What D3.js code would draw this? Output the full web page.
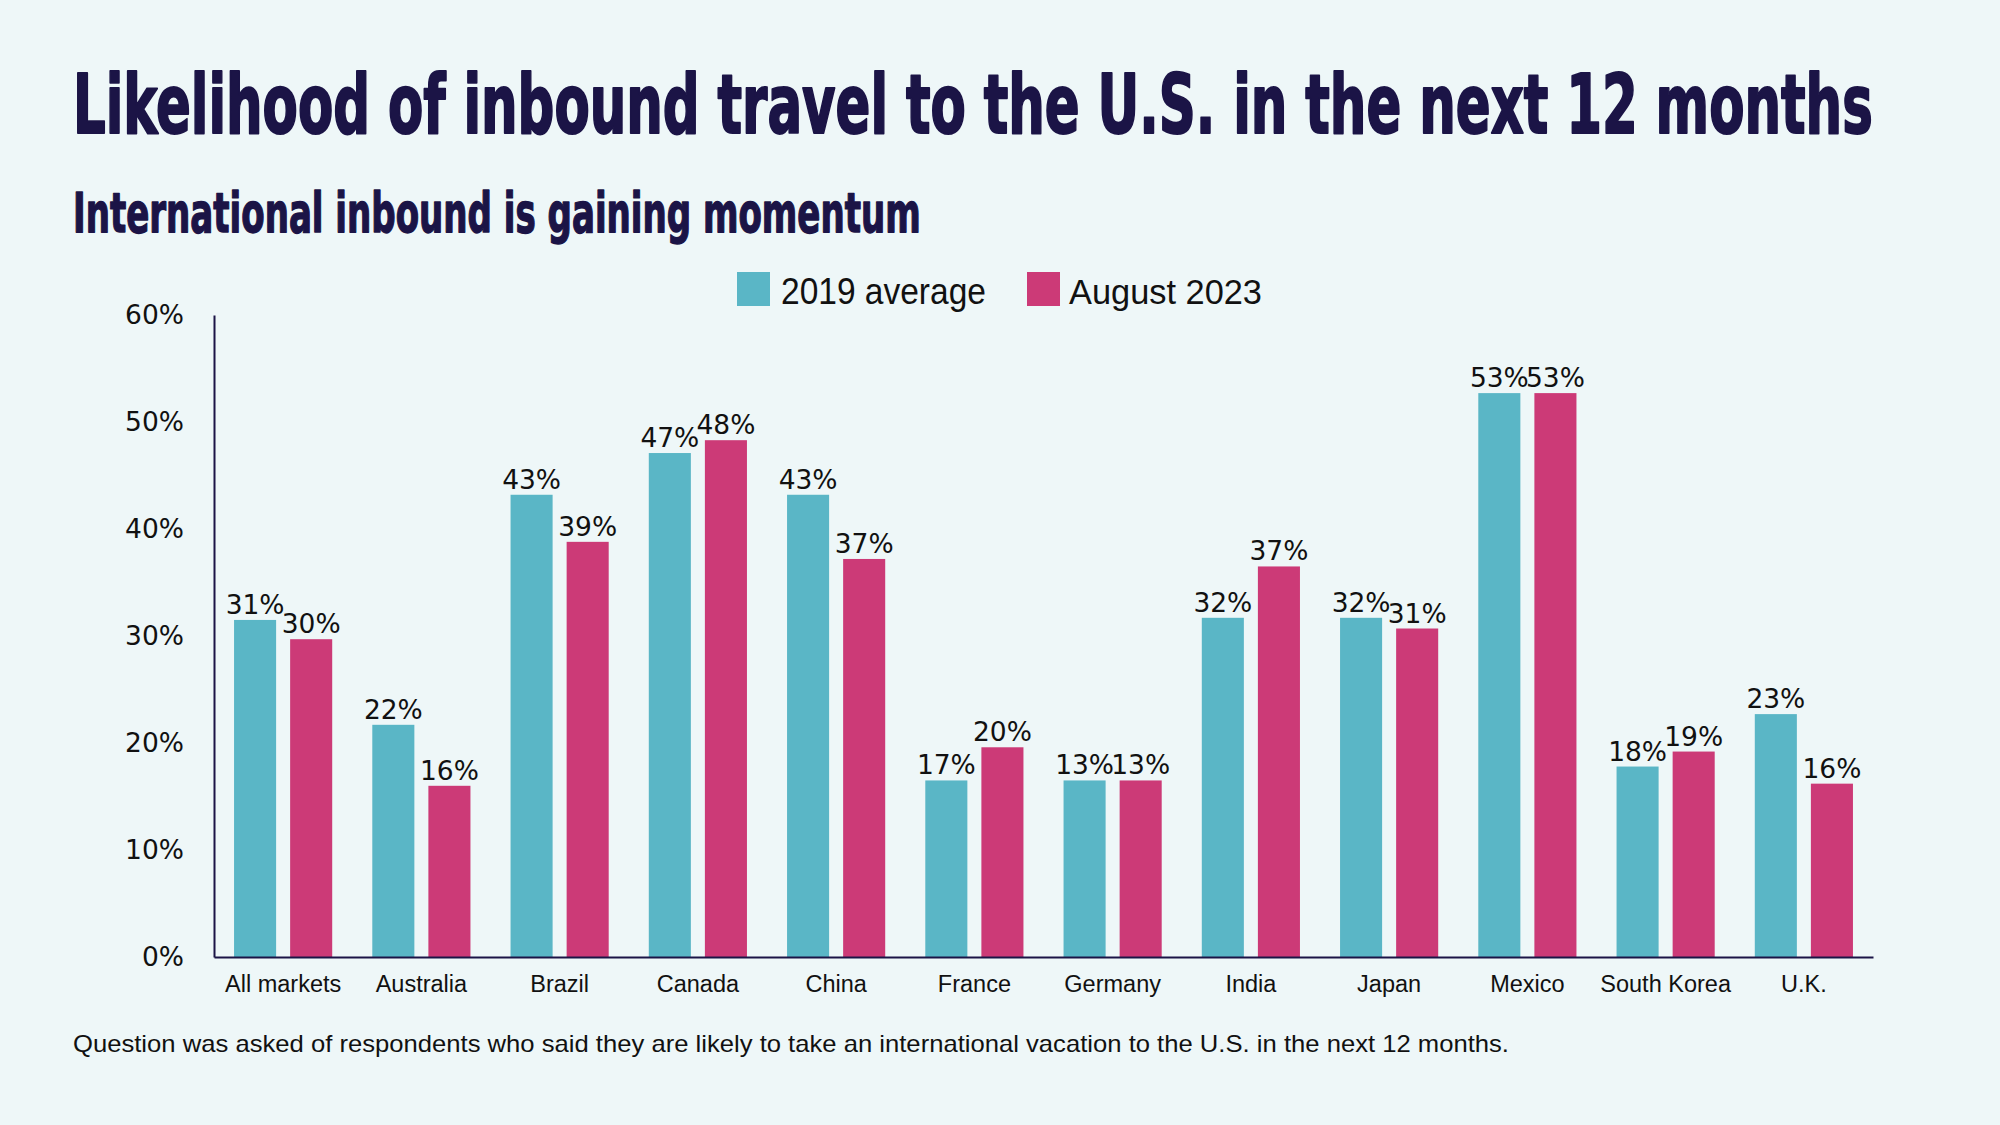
<!DOCTYPE html>
<html><head><meta charset="utf-8">
<script src="https://cdn.jsdelivr.net/npm/d3@7"></script>
<style>
html,body{margin:0;padding:0;background:#eef7f8;}
svg{display:block;}
</style></head>
<body>
<script>
const categories = ["All markets","Australia","Brazil","Canada","China","France","Germany","India","Japan","Mexico","South Korea","U.K."];
const seriesNames = ["2019 average","August 2023"];
// bar heights as drawn (percent)
const values2019 = [31.5,21.7,43.2,47.1,43.2,16.5,16.5,31.7,31.7,52.7,17.8,22.7];
const values2023 = [29.7,16.0,38.8,48.3,37.2,19.6,16.5,36.5,30.7,52.7,19.2,16.2];
// data labels as printed
const labels2019 = ["31%","22%","43%","47%","43%","17%","13%","32%","32%","53%","18%","23%"];
const labels2023 = ["30%","16%","39%","48%","37%","20%","13%","37%","31%","53%","19%","16%"];
const yTicks = [0,10,20,30,40,50,60];

const W=2000,H=1125;
const colors = ["#5ab6c6","#cc3a77"];
const navy = "#1b1446";

const svg = d3.select("body").append("svg").attr("width",W).attr("height",H);
svg.append("rect").attr("width",W).attr("height",H).attr("fill","#eef7f8");

// fit a text horizontally by scaling
function fitText(x, yb, txt, size, targetW, opts){
  const g = svg.append("g");
  const t = g.append("text").attr("x",0).attr("y",0)
    .attr("font-family",opts.family).attr("font-size",size).attr("fill",opts.fill)
    .attr("font-weight",opts.weight||"normal")
    .text(txt);
  if(opts.stroke){ t.attr("stroke",opts.fill).attr("stroke-width",opts.stroke).attr("stroke-linejoin","round"); }
  const w = t.node().getComputedTextLength();
  g.attr("transform",`translate(${x},${yb}) scale(${targetW/w},1)`);
  return t;
}

// Titles
fitText(73,133,"Likelihood of inbound travel to the U.S. in the next 12 months",82,1800,
  {family:"'Liberation Sans Narrow', 'DejaVu Sans Condensed', sans-serif",weight:"bold",fill:navy,stroke:2});
fitText(73,232,"International inbound is gaining momentum",56,848,
  {family:"'Liberation Sans Narrow', 'DejaVu Sans Condensed', sans-serif",weight:"bold",fill:navy,stroke:1.4});

// Legend
const legend = [{x:737,tx:781,tw:205},{x:1027,tx:1069,tw:193}];
seriesNames.forEach((s,i)=>{
  svg.append("rect").attr("x",legend[i].x).attr("y",272).attr("width",33).attr("height",34).attr("fill",colors[i]);
  fitText(legend[i].tx,304,s,36,legend[i].tw,{family:"'Liberation Sans Narrow', sans-serif",fill:"#111"});
});

// Scales
const x0 = d3.scaleBand().domain(categories).range([214,1873]).paddingInner(0.29).paddingOuter(0.145);
const x1 = d3.scaleBand().domain(seriesNames).range([0,x0.bandwidth()]).paddingInner(0.25);
const y = d3.scaleLinear().domain([0,60]).range([957,315]);

// Bars
const data = categories.map((c,i)=>({c, vals:[
  {s:seriesNames[0],v:values2019[i],l:labels2019[i],k:0},
  {s:seriesNames[1],v:values2023[i],l:labels2023[i],k:1}]}));

const g = svg.append("g").selectAll("g").data(data).join("g")
  .attr("transform",d=>`translate(${x0(d.c)},0)`);
g.selectAll("rect").data(d=>d.vals).join("rect")
  .attr("x",d=>x1(d.s)).attr("y",d=>y(d.v))
  .attr("width",x1.bandwidth()).attr("height",d=>y(0)-y(d.v))
  .attr("fill",d=>colors[d.k]);
g.selectAll("text").data(d=>d.vals).join("text")
  .attr("x",d=>x1(d.s)+x1.bandwidth()/2).attr("y",d=>y(d.v)-6)
  .attr("text-anchor","middle")
  .attr("font-family","'DejaVu Sans', sans-serif").attr("font-size",26.5).attr("fill","#111")
  .text(d=>d.l);

// Y axis
const yAxis = svg.append("g").attr("transform","translate(214,0)")
  .call(d3.axisLeft(y).tickValues(yTicks).tickFormat(d=>d+"%").tickSize(0).tickPadding(30));
yAxis.select(".domain").attr("stroke",navy).attr("stroke-width",2);
yAxis.selectAll("text").attr("font-family","'DejaVu Sans', sans-serif").attr("font-size",26.5).attr("fill","#111");

// X axis
const xAxis = svg.append("g").attr("transform","translate(0,957)")
  .call(d3.axisBottom(x0).tickSize(0).tickSizeOuter(0).tickPadding(18));
xAxis.select(".domain").attr("stroke",navy).attr("stroke-width",2);
xAxis.selectAll("text").attr("font-family","'Liberation Sans', Arial, sans-serif").attr("font-size",23.5).attr("fill","#111");

// Footnote
svg.append("text").attr("x",73).attr("y",1052)
  .attr("font-family","'Liberation Sans', Arial, sans-serif").attr("font-size",24).attr("fill","#111")
  .attr("textLength",1436).attr("lengthAdjust","spacingAndGlyphs")
  .text("Question was asked of respondents who said they are likely to take an international vacation to the U.S. in the next 12 months.");
</script>
</body></html>
